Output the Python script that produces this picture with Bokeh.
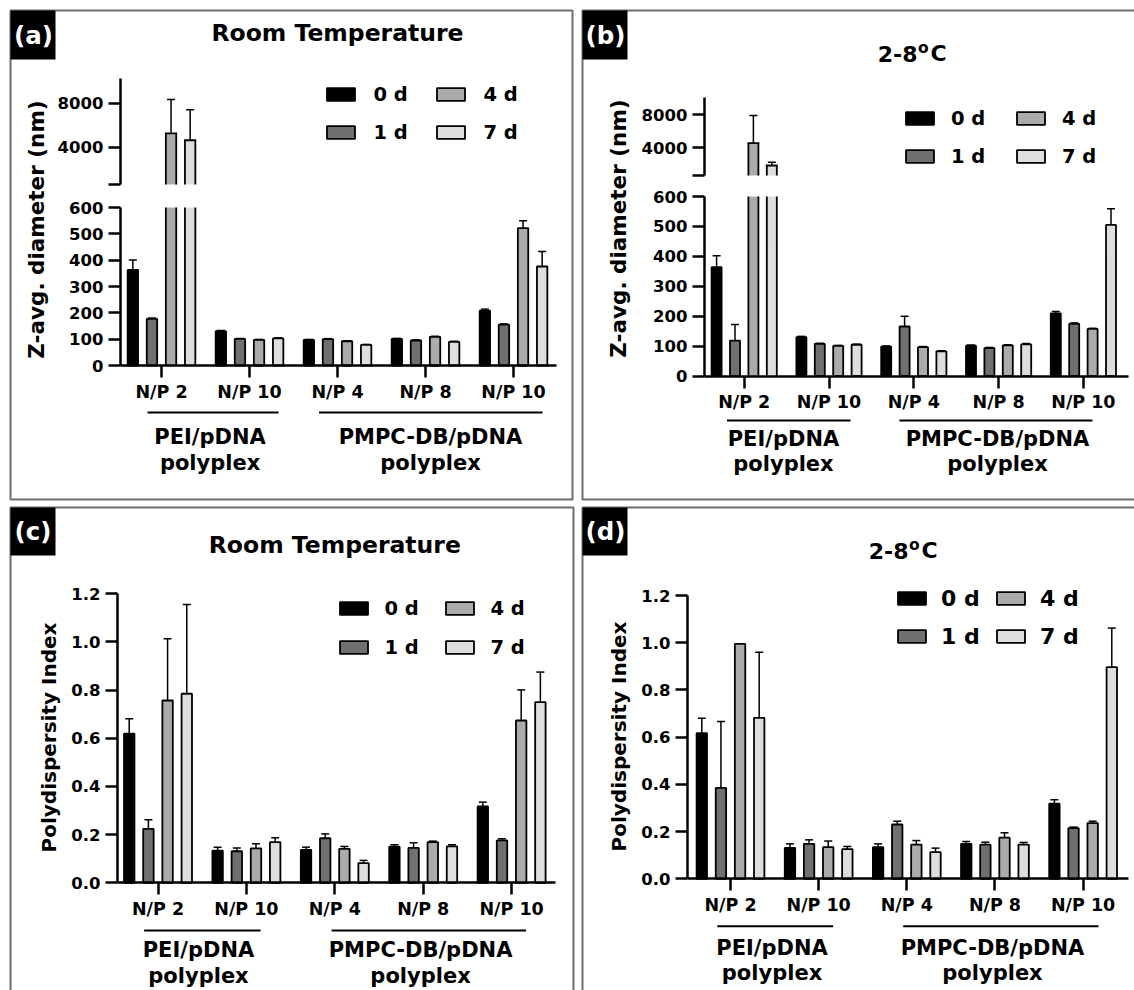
import numpy as np
from bokeh.plotting import figure
from bokeh.models import (ColumnDataSource, Range1d, FixedTicker, Whisker, TeeHead, LinearAxis,
                          Legend, LegendItem, Label, BoxAnnotation, NumeralTickFormatter, Grid)
from bokeh.core.properties import value
from bokeh.layouts import row, column
from bokeh.embed import file_html
from bokeh.resources import INLINE

FONT = "DejaVu Sans"

# ---------------- data ----------------
categories = ["N/P 2", "N/P 10", "N/P 4", "N/P 8", "N/P 10"]
group_names = ["PEI/pDNA", "PMPC-DB/pDNA"]
group_sub = "polyplex"
days = ["0 d", "1 d", "4 d", "7 d"]
day_colors = ["#000000", "#707070", "#ababab", "#dedede"]

# (a) Z-avg diameter (nm), room temperature
size_rt_0d = [363, 130, 97, 101, 208]
size_rt_1d = [177, 101, 100, 95, 155]
size_rt_4d = [5273, 97, 92, 109, 522]
size_rt_7d = [4636, 103, 78, 90, 376]
size_rt_0d_err = [38, 3, 2, 2, 6]
size_rt_1d_err = [3, 2, 2, 2, 3]
size_rt_4d_err = [3087, 2, 2, 2, 28]
size_rt_7d_err = [2791, 2, 2, 2, 57]

# (b) Z-avg diameter (nm), 2-8 C
size_cold_0d = [364, 130, 99, 102, 210]
size_cold_1d = [119, 108, 166, 94, 175]
size_cold_4d = [4521, 101, 97, 103, 158]
size_cold_7d = [1818, 105, 83, 106, 505]
size_cold_0d_err = [38, 3, 2, 2, 6]
size_cold_1d_err = [54, 2, 34, 2, 3]
size_cold_4d_err = [3359, 2, 2, 2, 2]
size_cold_7d_err = [400, 2, 2, 3, 54]

# (c) PDI, room temperature
pdi_rt_0d = [0.619, 0.134, 0.137, 0.150, 0.317]
pdi_rt_1d = [0.224, 0.131, 0.185, 0.145, 0.176]
pdi_rt_4d = [0.757, 0.143, 0.141, 0.169, 0.674]
pdi_rt_7d = [0.785, 0.169, 0.082, 0.151, 0.750]
pdi_rt_0d_err = [0.062, 0.014, 0.011, 0.008, 0.018]
pdi_rt_1d_err = [0.038, 0.014, 0.018, 0.021, 0.007]
pdi_rt_4d_err = [0.256, 0.019, 0.010, 0.004, 0.127]
pdi_rt_7d_err = [0.371, 0.018, 0.011, 0.007, 0.125]

# (d) PDI, 2-8 C
pdi_cold_0d = [0.617, 0.131, 0.134, 0.148, 0.318]
pdi_cold_1d = [0.385, 0.148, 0.230, 0.145, 0.215]
pdi_cold_4d = [0.995, 0.134, 0.145, 0.174, 0.236]
pdi_cold_7d = [0.682, 0.126, 0.113, 0.145, 0.897]
pdi_cold_0d_err = [0.063, 0.017, 0.014, 0.010, 0.017]
pdi_cold_1d_err = [0.281, 0.017, 0.014, 0.010, 0.004]
pdi_cold_4d_err = [0.0, 0.026, 0.017, 0.021, 0.008]
pdi_cold_7d_err = [0.278, 0.011, 0.017, 0.009, 0.165]

SIZE_BREAK = 600
SIZE_TOP = 10270
size_ticks_lower = [0, 100, 200, 300, 400, 500, 600]
size_ticks_upper = [600, 4000, 8000]
pdi_ticks = [0.0, 0.2, 0.4, 0.6, 0.8, 1.0, 1.2]

y_title_size = "Z-avg. diameter (nm)"
y_title_pdi = "Polydispersity Index"
title_rt = "Room Temperature"

# ---------------- styling / geometry helpers ----------------
PITCH = 0.217
BAR_W = 0.118
BAR_LW = 1.8
BORDER_COLOR = "#6e6e6e"
XTICK_FS = "17.5px"
YTICK_FS = "16.5px"


def lin_x(tick0_px, pitch_px, ox, w):
    return ((ox - tick0_px) / pitch_px, (ox + w - tick0_px) / pitch_px)


def lin_y(v_a, py_a, v_b, py_b, oy, h):
    k = (v_b - v_a) / (py_a - py_b)
    return (v_a - (oy + h - py_a) * k, v_a + (py_a - oy) * k)


def base_fig(ox, oy, w, h, xr, yr):
    p = figure(width=w, height=h, x_range=Range1d(*xr), y_range=Range1d(*yr),
               output_backend="svg", toolbar_location=None, tools="", title=None,
               x_axis_location=None, y_axis_location=None,
               min_border=0, min_border_left=0, min_border_right=0,
               min_border_top=0, min_border_bottom=0)
    p.outline_line_color = None
    p.background_fill_color = "white"
    p.border_fill_color = "white"
    for r in list(p.center) + list(p.renderers):
        if isinstance(r, Grid):
            r.visible = False
            r.grid_line_color = None
    g = dict(ox=ox, oy=oy, FL=ox, FB=oy + h)
    return p, g


def style_axis(ax, ticks, overrides=None, font_size=YTICK_FS, standoff=5):
    ax.ticker = FixedTicker(ticks=ticks)
    if overrides:
        ax.major_label_overrides = overrides
    ax.axis_line_width = 2.5
    ax.axis_line_color = "black"
    ax.major_tick_line_width = 2.5
    ax.major_tick_line_color = "black"
    ax.major_tick_out = 12
    ax.major_tick_in = 0
    ax.minor_tick_line_color = None
    ax.major_label_standoff = standoff
    ax.major_label_text_font = FONT
    ax.major_label_text_font_style = "bold"
    ax.major_label_text_font_size = font_size
    ax.major_label_text_color = "black"


def add_x_axis(p, x_lo, x_hi):
    ax = LinearAxis(fixed_location=0, bounds=(x_lo, x_hi))
    style_axis(ax, list(range(len(categories))),
               {i: c for i, c in enumerate(categories)}, font_size=XTICK_FS, standoff=4)
    p.add_layout(ax, "below")


def add_y_axis(p, x_at, bounds, ticks, overrides=None, fmt=None, range_name="default"):
    ax = LinearAxis(fixed_location=x_at, bounds=bounds, y_range_name=range_name)
    style_axis(ax, ticks, overrides)
    if fmt:
        ax.formatter = NumeralTickFormatter(format=fmt)
    p.add_layout(ax, "left")


def lab(p, g, px, py, text, size, align="center", baseline="middle",
        color="black", angle=0, xdata=None):
    if xdata is None:
        x, xu = px - g["FL"], "screen"
    else:
        x, xu = xdata, "data"
    p.add_layout(Label(x=x, y=g["FB"] - py, x_units=xu, y_units="screen", text=text,
                       text_font=FONT, text_font_style="bold", text_font_size=size,
                       text_color=color, text_align=align, text_baseline=baseline,
                       angle=angle, angle_units="deg"))


def box_canvas(p, g, rect, fill=None, line=None, lw=2):
    x0, y0, x1, y1 = rect
    p.add_layout(BoxAnnotation(left=x0 - g["ox"], right=x1 - g["ox"],
                               top=y0 - g["oy"], bottom=y1 - g["oy"],
                               left_units="canvas", right_units="canvas",
                               top_units="canvas", bottom_units="canvas",
                               fill_color=fill, fill_alpha=1.0 if fill else 0.0,
                               line_color=line, line_alpha=1.0, line_width=lw,
                               level="annotation"))


def group_line(p, g, x0, x1, py, lw=2):
    p.add_layout(BoxAnnotation(left=x0, right=x1, left_units="data", right_units="data",
                               top=py - lw / 2 - g["oy"], bottom=py + lw / 2 - g["oy"],
                               top_units="canvas", bottom_units="canvas",
                               fill_color="black", fill_alpha=1.0, line_color=None,
                               level="annotation"))


def whisker(src, lo, hi, range_name="default"):
    return Whisker(source=src, base="x", lower=lo, upper=hi, y_range_name=range_name,
                   line_color="black", line_width=1.5,
                   upper_head=TeeHead(size=8, line_color="black", line_width=1.5),
                   lower_head=None)


def add_bars(p, series, errors, brk=None):
    """Bars with upward error bars; with a break value, bars taller than the
    break continue on the 'upper' y range and are drawn open at the break."""
    rends = []
    for j, (vals, errs) in enumerate(zip(series, errors)):
        vals = np.asarray(vals, float)
        errs = np.asarray(errs, float)
        x = np.arange(len(categories)) + (j - 1.5) * PITCH
        m = np.ones(len(vals), bool) if brk is None else vals <= brk
        src = ColumnDataSource(dict(x=x[m], top=vals[m], hi=(vals + errs)[m]))
        p.add_layout(whisker(src, "top", "hi"))
        r = p.vbar(x="x", top="top", bottom=0, width=BAR_W, source=src,
                   fill_color=day_colors[j], line_color="black", line_width=BAR_LW)
        rends.append(r)
        if brk is None or m.all():
            continue
        t = ~m
        xt, vt, ht = x[t], vals[t], (vals + errs)[t]
        n = len(xt)
        edges = np.concatenate([xt - BAR_W / 2, xt + BAR_W / 2])
        # lower segment: filled up to the break, open top
        lo = ColumnDataSource(dict(x=xt, top=np.full(n, float(brk))))
        p.vbar(x="x", top="top", bottom=0, width=BAR_W, source=lo,
               fill_color=day_colors[j], line_color=None)
        p.segment(x0=edges, y0=np.zeros(2 * n), x1=edges, y1=np.full(2 * n, float(brk)),
                  line_color="black", line_width=BAR_LW)
        # upper segment: open bottom, closed top
        up = ColumnDataSource(dict(x=xt, top=vt, hi=ht))
        p.add_layout(whisker(up, "top", "hi", range_name="upper"))
        p.vbar(x="x", top="top", bottom=brk, width=BAR_W, source=up, y_range_name="upper",
               fill_color=day_colors[j], line_color=None)
        p.segment(x0=edges, y0=np.full(2 * n, float(brk)), x1=edges,
                  y1=np.concatenate([vt, vt]), y_range_name="upper",
                  line_color="black", line_width=BAR_LW)
        p.segment(x0=xt - BAR_W / 2, y0=vt, x1=xt + BAR_W / 2, y1=vt, y_range_name="upper",
                  line_color="black", line_width=BAR_LW, line_cap="square")
    return rends


def add_legend(p, g, rends, px_left, py_bottom, standoff, label_w, spacing, font_size,
               label_h=24, gw=35, gh=16):
    lg = Legend(items=[LegendItem(label=value(d), renderers=[r]) for d, r in zip(days, rends)],
                location=(px_left - g["FL"], g["FB"] - py_bottom),
                orientation="vertical", nrows=2,
                glyph_width=int(gw), glyph_height=int(gh), label_standoff=int(round(standoff)),
                label_width=int(round(label_w)), label_height=int(label_h),
                spacing=int(spacing),
                padding=0, margin=0, border_line_color=None, background_fill_alpha=0,
                label_text_font=FONT, label_text_font_style="bold",
                label_text_font_size=font_size, label_text_color="black")
    p.add_layout(lg)


def groups(p, g, line_spans, line_y, centers, y1, y2, fs="21px"):
    for (x0, x1) in line_spans:
        group_line(p, g, x0, x1, line_y)
    for name, cx in zip(group_names, centers):
        lab(p, g, 0, y1, name, fs, xdata=cx)
        lab(p, g, 0, y2, group_sub, fs, xdata=cx)


size_lower_over = {t: str(t) for t in size_ticks_lower}
size_upper_over = {600: "", 4000: "4000", 8000: "8000"}

# ================= Panel (a) =================
OX, OY, W, H = 0, 0, 577, 503
T0, PT = 161.0, 88.0
figA, gA = base_fig(OX, OY, W, H, lin_x(T0, PT, OX, W), lin_y(0, 365, 600, 207, OY, H))
figA.extra_y_ranges = {"upper": Range1d(*lin_y(SIZE_BREAK, 184, SIZE_TOP, 78, OY, H))}
box_canvas(figA, gA, (10, 10, 572, 499), line=BORDER_COLOR, lw=2)
yx = (120 - T0) / PT
add_y_axis(figA, yx, (0, SIZE_BREAK), size_ticks_lower, size_lower_over)
add_y_axis(figA, yx, (SIZE_BREAK, SIZE_TOP), size_ticks_upper, size_upper_over, range_name="upper")
add_x_axis(figA, yx, (556 - T0) / PT)
rA = add_bars(figA, [size_rt_0d, size_rt_1d, size_rt_4d, size_rt_7d],
              [size_rt_0d_err, size_rt_1d_err, size_rt_4d_err, size_rt_7d_err], brk=SIZE_BREAK)
box_canvas(figA, gA, (10, 10, 55, 59), fill="black")
lab(figA, gA, 33, 34.5, "(a)", "24.5px", color="white")
lab(figA, gA, 36, 229, y_title_size, "21.5px", angle=90)
lab(figA, gA, 0, 32.5, title_rt, "23.5px", xdata=2.0)
add_legend(figA, gA, rA, 322.5, 144, 15.5, 45, 14, "19.5px")
groups(figA, gA, [(-0.159, 1.33), (1.79, 4.33)], 412, [0.552, 3.057], 436.7, 462.5)

# ================= Panel (b) =================
OX, OY, W, H = 577, 0, 557, 503
T0, PT = 743.7, 84.8
figB, gB = base_fig(OX, OY, W, H, lin_x(T0, PT, OX, W), lin_y(0, 375.7, 600, 196, OY, H))
figB.extra_y_ranges = {"upper": Range1d(*lin_y(4000, 147, 8000, 114, OY, H))}
box_canvas(figB, gB, (582, 10, 1300, 499), line=BORDER_COLOR, lw=2)
yx = (704 - T0) / PT
add_y_axis(figB, yx, (0, SIZE_BREAK), size_ticks_lower, size_lower_over)
add_y_axis(figB, yx, (SIZE_BREAK, 10060), size_ticks_upper, size_upper_over, range_name="upper")
add_x_axis(figB, yx, (1128 - T0) / PT)
rB = add_bars(figB, [size_cold_0d, size_cold_1d, size_cold_4d, size_cold_7d],
              [size_cold_0d_err, size_cold_1d_err, size_cold_4d_err, size_cold_7d_err],
              brk=SIZE_BREAK)
box_canvas(figB, gB, (582, 10, 627, 59), fill="black")
lab(figB, gB, 605, 34.5, "(b)", "24.5px", color="white")
lab(figB, gB, 617.6, 228, y_title_size, "21.5px", angle=90)
lab(figB, gB, 917, 53, "2-8", "22px", align="right")
lab(figB, gB, 917.5, 47.5, "o", "15.5px", align="left")
lab(figB, gB, 930, 53, "C", "22px", align="left")
add_legend(figB, gB, rB, 902, 168, 14, 48.5, 14, "19.5px")
groups(figB, gB, [(-0.203, 1.254), (1.831, 4.107)], 420, [0.463, 2.987], 438.3, 463.6)

# ================= Panel (c) =================
OX, OY, W, H = 0, 503, 577, 487
T0, PT = 157.5, 88.4
figC, gC = base_fig(OX, OY, W, H, lin_x(T0, PT, OX, W), lin_y(0, 882.3, 1.2, 593.3, OY, H))
box_canvas(figC, gC, (10, 507, 573, 1300), line=BORDER_COLOR, lw=2)
yx = (117 - T0) / PT
add_y_axis(figC, yx, (0, 1.2), pdi_ticks, fmt="0.0")
add_x_axis(figC, yx, (554.5 - T0) / PT)
rC = add_bars(figC, [pdi_rt_0d, pdi_rt_1d, pdi_rt_4d, pdi_rt_7d],
              [pdi_rt_0d_err, pdi_rt_1d_err, pdi_rt_4d_err, pdi_rt_7d_err])
box_canvas(figC, gC, (10, 507, 55, 555), fill="black")
lab(figC, gC, 32.5, 531, "(c)", "24.5px", color="white")
lab(figC, gC, 48, 737, y_title_pdi, "20px", angle=90)
lab(figC, gC, 0, 544.5, title_rt, "23.5px", xdata=2.0)
add_legend(figC, gC, rC, 335.5, 659, 14.5, 42.5, 15, "19.5px")
groups(figC, gC, [(-0.157, 1.16), (1.963, 4.163)], 930, [0.458, 2.97], 949.5, 975)

# ================= Panel (d) =================
OX, OY, W, H = 577, 503, 557, 487
T0, PT = 730.0, 88.15
figD, gD = base_fig(OX, OY, W, H, lin_x(T0, PT, OX, W), lin_y(0, 878.3, 1.2, 595, OY, H))
box_canvas(figD, gD, (582, 507, 1300, 1300), line=BORDER_COLOR, lw=2)
yx = (687 - T0) / PT
add_y_axis(figD, yx, (0, 1.2), pdi_ticks, fmt="0.0")
add_x_axis(figD, yx, (1127.6 - T0) / PT)
rD = add_bars(figD, [pdi_cold_0d, pdi_cold_1d, pdi_cold_4d, pdi_cold_7d],
              [pdi_cold_0d_err, pdi_cold_1d_err, pdi_cold_4d_err, pdi_cold_7d_err])
box_canvas(figD, gD, (582, 507, 627, 555), fill="black")
lab(figD, gD, 605, 531, "(d)", "24.5px", color="white")
lab(figD, gD, 618.6, 736, y_title_pdi, "20px", angle=90)
lab(figD, gD, 908, 550, "2-8", "22px", align="right")
lab(figD, gD, 908.5, 544.5, "o", "15.5px", align="left")
lab(figD, gD, 921, 550, "C", "22px", align="left")
add_legend(figD, gD, rD, 894, 649, 11.5, 39.9, 12, "22px", label_h=26)
groups(figD, gD, [(-0.15, 1.164), (1.959, 4.175)], 925.7, [0.471, 2.972], 947, 972)

layout = row(column(figA, figC), column(figB, figD))

open("out.html", "w").write(file_html(layout, INLINE))
